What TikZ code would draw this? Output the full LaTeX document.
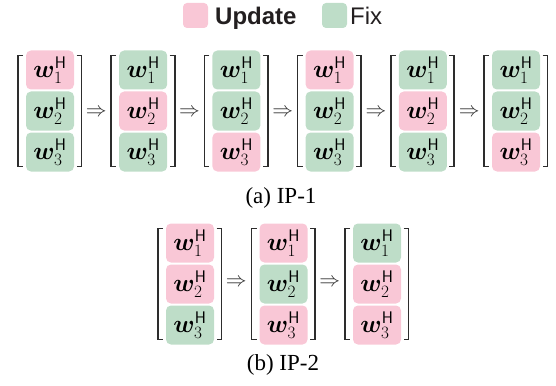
\documentclass[tikz,border=0pt]{standalone}
\usepackage{fontspec}
\usepackage{bm}
\newfontfamily\capfont{Liberation Serif}
\newfontfamily\legfont{Liberation Sans}
\definecolor{upd}{RGB}{249,199,214}
\definecolor{fixc}{RGB}{190,221,200}
\definecolor{brk}{RGB}{45,45,45}
\definecolor{txt}{RGB}{35,31,32}
\tikzset{
  cell/.style={rounded corners=5pt, minimum width=48pt, minimum height=39pt, inner sep=0pt, font=\fontsize{24}{28}\selectfont},
  u/.style={cell, fill=upd},
  f/.style={cell, fill=fixc},
  brkt/.style={draw=brk, line width=1.7pt},
  arr/.style={font=\fontsize{21}{24}\selectfont, text=brk, inner sep=0pt},
  legbox/.style={rounded corners=4pt, minimum size=25pt, inner sep=0pt},
  legtext/.style={font=\legfont\fontsize{24}{28}\selectfont, text=txt, inner sep=0pt, anchor=base west},
  captext/.style={font=\capfont\fontsize{23}{27}\selectfont, text=black, inner sep=0pt, anchor=base}
}
\newcommand\mkcol[6]{%
  \node[#4] (#1-1) at (#2+32, #3-41) {$\bm{w}^{\mathsf{H}}_{1}$};
  \node[#5] (#1-2) at (#2+32, #3) {$\bm{w}^{\mathsf{H}}_{2}$};
  \node[#6] (#1-3) at (#2+32, #3+41) {$\bm{w}^{\mathsf{H}}_{3}$};
  \draw[brkt] (#2+5, #3-55.5) -- (#2, #3-55.5) -- (#2, #3+55.5) -- (#2+5, #3+55.5);
  \draw[brkt] (#2+58.5, #3-55.5) -- (#2+63.5, #3-55.5) -- (#2+63.5, #3+55.5) -- (#2+58.5, #3+55.5);
}
\begin{document}
\begin{tikzpicture}[x=1pt,y=-1pt]
\useasboundingbox (0,0) rectangle (556,385);
% legend
\node[legbox, fill=upd] (lu) at (195.5,15.5) {};
\node[legtext] (lut) at (215,25) {\bfseries Update};
\node[legbox, fill=fixc] (lf) at (334.5,15.5) {};
\node[legtext] (lft) at (350,25) {Fix};
% (a) IP-1
\mkcol{a1}{18}{111}{u}{f}{f}
\mkcol{a2}{111.2}{111}{f}{u}{f}
\mkcol{a3}{204.4}{111}{f}{f}{u}
\mkcol{a4}{297.6}{111}{u}{f}{f}
\mkcol{a5}{390.8}{111}{f}{u}{f}
\mkcol{a6}{484}{111}{f}{f}{u}
\node[arr] (aa1) at (18+78.35,112.5) {$\Rightarrow$};
\node[arr] (aa2) at (111.2+78.35,112.5) {$\Rightarrow$};
\node[arr] (aa3) at (204.4+78.35,112.5) {$\Rightarrow$};
\node[arr] (aa4) at (297.6+78.35,112.5) {$\Rightarrow$};
\node[arr] (aa5) at (390.8+78.35,112.5) {$\Rightarrow$};
\node[captext] (capa) at (281,203) {(a) IP-1};
% (b) IP-2
\mkcol{b1}{158}{284}{u}{u}{f}
\mkcol{b2}{251.5}{284}{u}{f}{u}
\mkcol{b3}{345}{284}{f}{u}{u}
\node[arr] (ba1) at (158+78.35,283) {$\Rightarrow$};
\node[arr] (ba2) at (251.5+78.35,283) {$\Rightarrow$};
\node[captext] (capb) at (283,370) {(b) IP-2};
\end{tikzpicture}
\end{document}
